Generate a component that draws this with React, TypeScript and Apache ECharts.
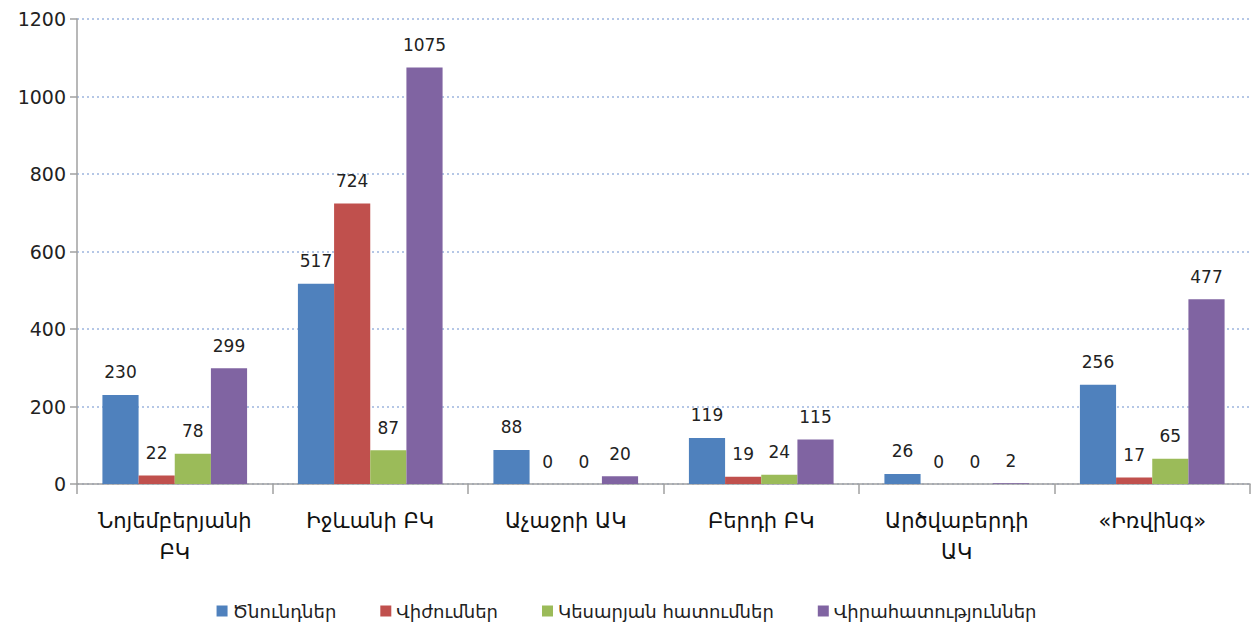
import React, { useEffect, useRef } from "react";
import * as echarts from "echarts";

const categories = [
  "Նոյեմբերյանի\nԲԿ",
  "Իջևանի ԲԿ",
  "Աչաջրի ԱԿ",
  "Բերդի ԲԿ",
  "Արծվաբերդի\nԱԿ",
  "«Իռվինգ»",
];
const seriesNames = ["Ծնունդներ", "Վիժումներ", "Կեսարյան հատումներ", "Վիրահատություններ"];
const births = [230, 517, 88, 119, 26, 256];
const abortions = [22, 724, 0, 19, 0, 17];
const caesareans = [78, 87, 0, 24, 0, 65];
const surgeries = [299, 1075, 20, 115, 2, 477];
const colors = ["#4F81BD", "#C0504D", "#9BBB59", "#8064A2"];
const yTicks = { min: 0, max: 1200, interval: 200 };

export default function App() {
  const ref = useRef<HTMLDivElement>(null);
  useEffect(() => {
    if (!ref.current) return;
    const chart = echarts.init(ref.current, null, { renderer: "svg" });
    const values = [births, abortions, caesareans, surgeries];
    chart.setOption({
      animation: false,
      textStyle: { fontFamily: "DejaVu Sans" },
      grid: { left: 77, right: 3, top: 19, bottom: 144, containLabel: false },
      legend: {
        bottom: 3,
        left: "center",
        itemWidth: 11,
        itemHeight: 11,
        itemGap: 44,
        icon: "rect",
        textStyle: { fontSize: 18, color: "#222", fontFamily: "DejaVu Sans" },
        data: seriesNames,
      },
      xAxis: {
        type: "category",
        data: categories,
        axisLine: { lineStyle: { color: "#A0A0A0", width: 1.5 } },
        axisTick: { show: true, length: 10, lineStyle: { color: "#A0A0A0", width: 1.5 } },
        axisLabel: {
          fontSize: 21,
          color: "#111",
          margin: 21,
          lineHeight: 31,
          interval: 0,
          fontFamily: "DejaVu Sans",
        },
      },
      yAxis: {
        type: "value",
        min: yTicks.min,
        max: yTicks.max,
        interval: yTicks.interval,
        axisLine: { show: true, lineStyle: { color: "#A0A0A0", width: 1.5 } },
        axisTick: { show: true, length: 7, lineStyle: { color: "#A0A0A0", width: 1.5 } },
        axisLabel: {
          fontSize: 19,
          color: "#222",
          margin: 11,
          fontFamily: "DejaVu Sans",
          formatter: (v: number) => String(v),
        },
        splitLine: { lineStyle: { color: "#9DB5DE", type: [2, 3], width: 1.5 } },
      },
      series: seriesNames.map((name, i) => ({
        name,
        type: "bar",
        data: values[i],
        barGap: "0%",
        barCategoryGap: "26%",
        itemStyle: { color: colors[i] },
        label: {
          show: true,
          position: "top",
          distance: 14,
          fontSize: 17,
          color: "#222",
          fontFamily: "DejaVu Sans",
        },
      })),
    });
    return () => chart.dispose();
  }, []);
  return <div ref={ref} style={{ width: 1253, height: 628, position: "absolute", left: 0, top: 0 }} />;
}
